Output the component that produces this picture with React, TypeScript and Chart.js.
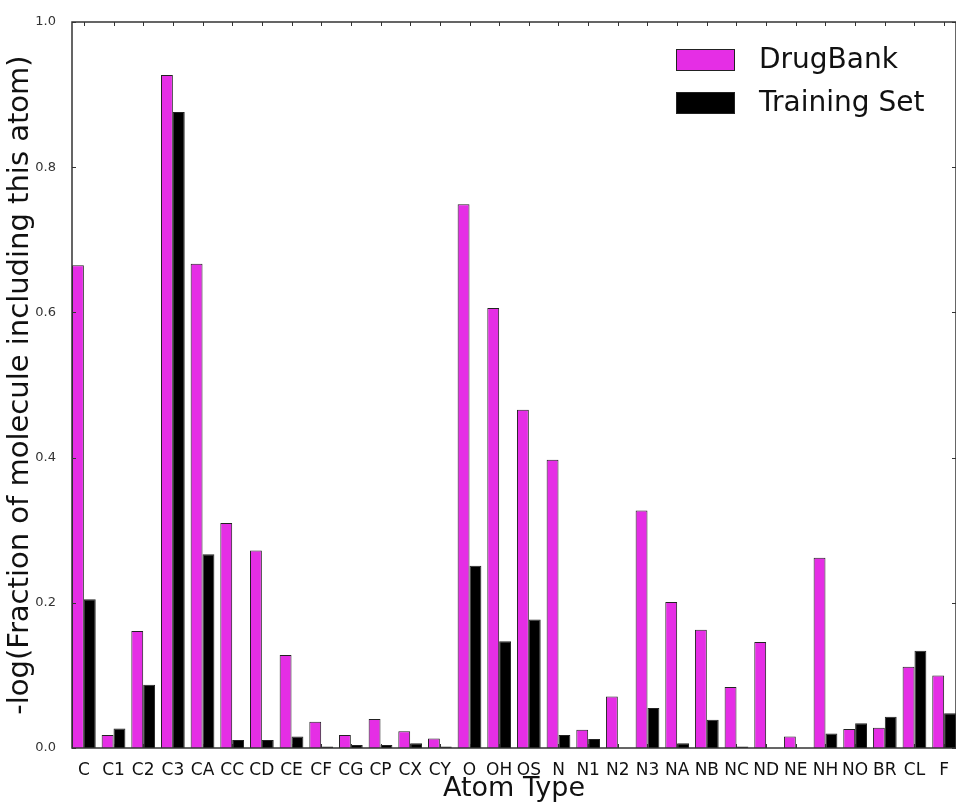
import { useEffect, useRef } from "react";
import { Chart, registerables } from "chart.js";

Chart.register(...registerables);

const atomTypes = [
  "C", "C1", "C2", "C3", "CA", "CC", "CD", "CE", "CF", "CG", "CP", "CX", "CY",
  "O", "OH", "OS",
  "N", "N1", "N2", "N3", "NA", "NB", "NC", "ND", "NE", "NH", "NO",
  "BR", "CL", "F",
];

const drugBank = [
  0.665, 0.018, 0.161, 0.927, 0.667, 0.31, 0.272, 0.128, 0.036, 0.018, 0.04, 0.023, 0.013,
  0.749, 0.606, 0.466,
  0.397, 0.025, 0.071, 0.327, 0.201, 0.163, 0.084, 0.146, 0.016, 0.262, 0.026,
  0.028, 0.112, 0.1,
];

const trainingSet = [
  0.205, 0.027, 0.087, 0.876, 0.267, 0.011, 0.011, 0.016, 0.002, 0.004, 0.004, 0.0065, 0.002,
  0.251, 0.147, 0.177,
  0.018, 0.0125, 0, 0.055, 0.0065, 0.039, 0.002, 0, 0, 0.02, 0.034,
  0.043, 0.134, 0.048,
];

const yTicks = [0, 0.2, 0.4, 0.6, 0.8, 1.0];

const FONT = "'DejaVu Sans', sans-serif";
const MAGENTA = "#e52ee5";
const EDGE = "#222222";
const FRAME = "#333333";

// Axes box with inward tick marks on all four sides, drawn over the bars
const framePlugin = {
  id: "frame",
  afterDatasetsDraw(chart: any) {
    const { ctx, chartArea: a, scales } = chart;
    ctx.save();
    ctx.strokeStyle = FRAME;
    ctx.lineWidth = 1;
    const len = 4;
    ctx.beginPath();
    scales.x.ticks.forEach((t: any) => {
      const px = Math.round(scales.x.getPixelForValue(t.value)) + 0.5;
      ctx.moveTo(px, a.top);
      ctx.lineTo(px, a.top + len);
      ctx.moveTo(px, a.bottom);
      ctx.lineTo(px, a.bottom - len);
    });
    scales.y.ticks.forEach((t: any) => {
      const py = Math.round(scales.y.getPixelForValue(t.value)) + 0.5;
      ctx.moveTo(a.left, py);
      ctx.lineTo(a.left + len, py);
      ctx.moveTo(a.right, py);
      ctx.lineTo(a.right - len, py);
    });
    ctx.stroke();
    ctx.lineWidth = 1.5;
    ctx.strokeRect(a.left, a.top, a.right - a.left, a.bottom - a.top);
    ctx.restore();
  },
  afterDraw(chart: any) {
    // legend in the upper right corner of the plot
    const { ctx, chartArea: a } = chart;
    const boxW = 59;
    const boxH = 22;
    const x0 = a.right - 280;
    const y0 = a.top + 27;
    const rowGap = 43;
    ctx.save();
    ctx.font = `28px ${FONT}`;
    ctx.textBaseline = "middle";
    ctx.textAlign = "left";
    chart.data.datasets.forEach((ds: any, i: number) => {
      const y = y0 + i * rowGap;
      ctx.fillStyle = ds.backgroundColor;
      ctx.fillRect(x0, y, boxW, boxH);
      ctx.strokeStyle = EDGE;
      ctx.lineWidth = 1;
      ctx.strokeRect(x0 + 0.5, y + 0.5, boxW - 1, boxH - 1);
      ctx.fillStyle = "#111111";
      ctx.fillText(ds.label, x0 + 83, y + boxH / 2 + 1);
    });
    ctx.restore();
  },
};

export default function App() {
  const canvasRef = useRef<HTMLCanvasElement | null>(null);

  useEffect(() => {
    const canvas = canvasRef.current;
    if (!canvas) return;

    const chart = new Chart(canvas, {
      type: "bar",
      data: {
        datasets: [
          {
            label: "DrugBank",
            data: drugBank.map((v, i) => ({ x: i, y: v })),
            backgroundColor: MAGENTA,
            borderColor: EDGE,
            borderWidth: 1,
            categoryPercentage: 0.8,
            barPercentage: 1.0,
          },
          {
            label: "Training Set",
            data: trainingSet.map((v, i) => ({ x: i, y: v })),
            backgroundColor: "#000000",
            borderColor: EDGE,
            borderWidth: 1,
            categoryPercentage: 0.8,
            barPercentage: 1.0,
          },
        ],
      },
      options: {
        responsive: false,
        animation: false,
        devicePixelRatio: 1,
        layout: { padding: { top: 22, right: -1, bottom: 0, left: 0 } },
        plugins: {
          legend: { display: false },
          tooltip: { enabled: false },
        },
        scales: {
          x: {
            type: "linear",
            offset: false,
            min: -0.4,
            max: atomTypes.length - 0.6,
            afterBuildTicks(scale: any) {
              scale.ticks = atomTypes.map((_, i) => ({ value: i }));
            },
            afterFit(scale: any) {
              scale.height = 58;
            },
            grid: { display: false, offset: false },
            border: { display: false },
            ticks: {
              autoSkip: false,
              maxRotation: 0,
              minRotation: 0,
              padding: 4,
              color: "#111111",
              font: { family: FONT, size: 17 },
              callback: (v: any) => atomTypes[Math.round(Number(v))] ?? "",
            },
            title: {
              display: true,
              text: "Atom Type",
              color: "#111111",
              font: { family: FONT, size: 27 },
              padding: { top: 0, bottom: 1 },
            },
          },
          y: {
            min: 0,
            max: 1,
            afterBuildTicks(scale: any) {
              scale.ticks = yTicks.map((v) => ({ value: v }));
            },
            afterFit(scale: any) {
              scale.width = 72;
            },
            grid: { display: false },
            border: { display: false },
            ticks: {
              padding: 8,
              color: "#333333",
              font: { family: FONT, size: 13 },
              callback: (v: any) => Number(v).toFixed(1),
            },
            title: {
              display: true,
              text: "-log(Fraction of molecule including this atom)",
              color: "#111111",
              font: { family: FONT, size: 29 },
              padding: { top: 3, bottom: 0 },
            },
          },
        },
      },
      plugins: [framePlugin],
    } as any);

    return () => chart.destroy();
  }, []);

  return (
    <div style={{ position: "absolute", left: 0, top: 0, width: 956, height: 806, background: "#ffffff" }}>
      <canvas ref={canvasRef} width={956} height={806} />
    </div>
  );
}
